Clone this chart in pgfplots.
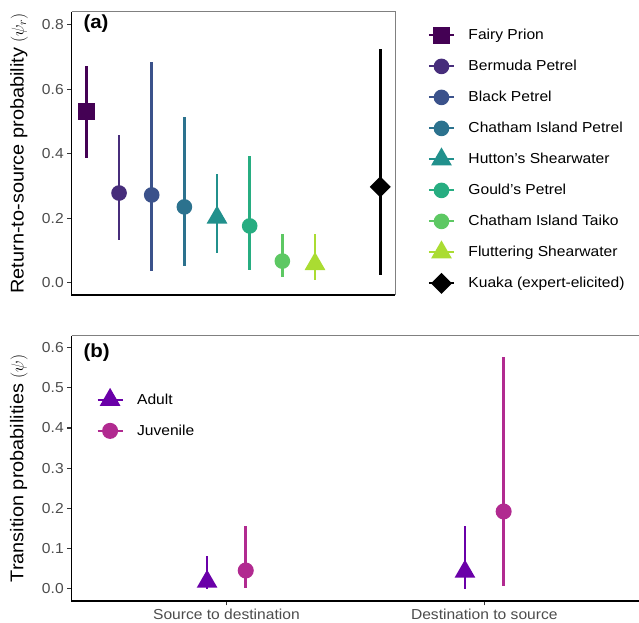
\documentclass[border=0pt]{standalone}
\usepackage{fontspec}
\setmainfont{Liberation Sans}[FakeStretch=1.08]
\usepackage{pgfplots}
\pgfplotsset{compat=1.18}

% viridis for the species, plasma for the age classes
\definecolor{c1}{HTML}{440154}
\definecolor{c2}{HTML}{472D7B}
\definecolor{c3}{HTML}{3B528B}
\definecolor{c4}{HTML}{2C728E}
\definecolor{c5}{HTML}{21908C}
\definecolor{c6}{HTML}{27AD81}
\definecolor{c7}{HTML}{5DC863}
\definecolor{c8}{HTML}{AADC32}
\definecolor{adult}{HTML}{6A00A8}
\definecolor{juv}{HTML}{B12A90}

\pgfplotsset{
  pr/.style={color=#1, only marks, line width=2bp,
    error bars/y dir=both, error bars/y explicit, error bars/error mark=none,
    error bars/error bar style={line width=2.7bp, color=#1}},
  table/ci/.style={x=x, y=y, row sep=\\,
    y error plus expr=\thisrow{hi}-\thisrow{y},
    y error minus expr=\thisrow{y}-\thisrow{lo}},
  panel/.style={scale only axis, clip=false, axis line style={draw=none},
    tick align=outside, major tick length=4.5bp,
    tick style={draw=black!80, line width=1.1bp}, ytick pos=left,
    tick label style={font=\fontsize{14.5}{14.5}\selectfont, text=black!70},
    label style={font=\fontsize{18.5}{18.5}\selectfont},
    /pgf/number format/assume math mode=true,
    legend cell align=left,
    legend image code/.code={
      \path[draw=none, fill=none] (0bp,-15.5bp) rectangle (25bp,15.5bp);
      \draw (0bp,0bp) -- (25bp,0bp);
      \draw[mark repeat=2, mark phase=2] plot coordinates {(0bp,0bp) (12.5bp,0bp) (25bp,0bp)};},
    legend style={draw=none, fill=none, inner sep=0pt, outer sep=0pt,
      row sep=0pt, column sep=13.5bp, anchor=north west,
      font=\fontsize{14.5}{14.5}\selectfont,
      nodes={inner sep=0pt, outer sep=0pt}}},
}

\begin{document}
\begin{tikzpicture}[x=1bp, y=1bp]
\path[use as bounding box] (0,0) rectangle (639,623);

% ---- panel (a)
\begin{axis}[panel, at={(71.7bp,328bp)}, anchor=south west,
  width=323.3bp, height=283.3bp,
  xmin=0.55, xmax=10.45, ymin=-0.038, ymax=0.84,
  xtick=\empty, ytick={0,0.2,0.4,0.6,0.8},
  yticklabel style={/pgf/number format/.cd, fixed, fixed zerofill, precision=1},
  ylabel={Return-to-source probability $(\psi_r)$},
  ylabel style={at={(axis description cs:-0.163,0.5)}, anchor=center},
  legend style={at={(1.102,0.971)}},
]
\addplot[pr=c1, mark=square*, mark size=7.5bp] table[ci] {x y lo hi\\ 1 0.531 0.386 0.673\\};
\addplot[pr=c2, mark=*, mark size=6.8bp] table[ci] {x y lo hi\\ 2 0.278 0.132 0.459\\};
\addplot[pr=c3, mark=*, mark size=6.8bp] table[ci] {x y lo hi\\ 3 0.272 0.036 0.683\\};
\addplot[pr=c4, mark=*, mark size=6.8bp] table[ci] {x y lo hi\\ 4 0.235 0.053 0.515\\};
\addplot[pr=c5, mark=triangle*, mark size=10bp] table[ci] {x y lo hi\\ 5 0.202 0.091 0.336\\};
\addplot[pr=c6, mark=*, mark size=6.8bp] table[ci] {x y lo hi\\ 6 0.176 0.039 0.394\\};
\addplot[pr=c7, mark=*, mark size=6.8bp] table[ci] {x y lo hi\\ 7 0.067 0.017 0.151\\};
\addplot[pr=c8, mark=triangle*, mark size=10bp] table[ci] {x y lo hi\\ 8 0.058 0.008 0.151\\};
\addplot[pr=black, mark=square*, mark size=6.4bp, mark options={rotate=45}] table[ci] {x y lo hi\\ 10 0.297 0.024 0.725\\};
\legend{Fairy Prion, Bermuda Petrel, Black Petrel, Chatham Island Petrel,
  Hutton's Shearwater, Gould's Petrel, Chatham Island Taiko,
  Fluttering Shearwater, Kuaka (expert-elicited)}
\node[anchor=west, font=\bfseries\fontsize{19}{19}\selectfont] at (rel axis cs:0.0257,0.9566) {(a)};
\draw[black!50, line width=1bp] (rel axis cs:0,1) -- (rel axis cs:1,1) -- (rel axis cs:1,0);
\draw[black, line width=1.2bp] (rel axis cs:0,1) -- (rel axis cs:0,0) -- (rel axis cs:1,0);
\end{axis}

% ---- panel (b)
\begin{axis}[panel, at={(71.7bp,22bp)}, anchor=south west,
  width=567.3bp, height=265.3bp,
  xmin=0.4, xmax=2.6, ymin=-0.031, ymax=0.63,
  xtick={1,2}, xticklabels={Source to destination, Destination to source},
  xtick pos=bottom,
  ytick={0,0.1,0.2,0.3,0.4,0.5,0.6},
  yticklabel style={/pgf/number format/.cd, fixed, fixed zerofill, precision=1},
  ylabel={Transition probabilities $(\psi)$},
  ylabel style={at={(axis description cs:-0.093,0.5)}, anchor=center},
  legend style={at={(0.0439,0.8165)}},
]
\addplot[pr=adult, mark=triangle*, mark size=10bp] table[ci] {x y lo hi\\ 0.925 0.017 0.0 0.080\\ 1.925 0.042 0.0 0.156\\};
\addplot[pr=juv, mark=*, mark size=7bp] table[ci] {x y lo hi\\ 1.075 0.045 0.001 0.156\\ 2.075 0.192 0.007 0.576\\};
\legend{Adult, Juvenile}
\node[anchor=west, font=\bfseries\fontsize{19}{19}\selectfont] at (rel axis cs:0.0146,0.936) {(b)};
\draw[black!50, line width=1bp] (rel axis cs:0,1) -- (rel axis cs:1,1);
\draw[black, line width=1.2bp] (rel axis cs:0,1) -- (rel axis cs:0,0) -- (rel axis cs:1,0);
\end{axis}
\end{tikzpicture}
\end{document}
